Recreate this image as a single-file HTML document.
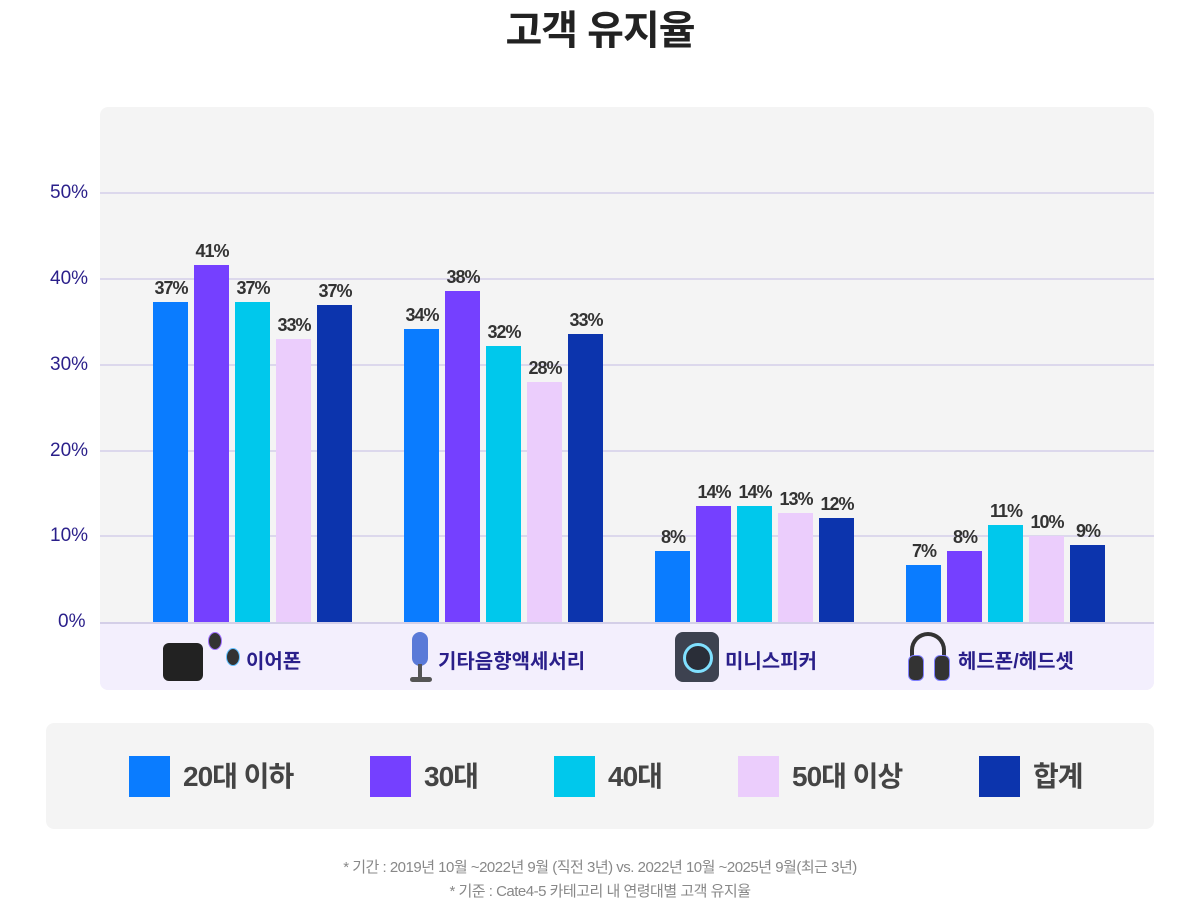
<!DOCTYPE html>
<html><head><meta charset="utf-8"><style>
body{margin:0;width:1200px;height:904px;background:#fff;font-family:"Liberation Sans","Noto Sans CJK KR",sans-serif;position:relative;overflow:hidden}
.a{position:absolute}
.title{left:0;width:1200px;top:-2px;text-align:center;font-size:40px;font-weight:bold;color:#222;letter-spacing:-1px}
.panel{left:100px;top:107px;width:1054px;height:583px;background:#f4f4f4;border-radius:8px;overflow:hidden}
.band{left:0;top:515px;width:1054px;height:68px;background:#f3effd;border-top:2px solid #d4cfe8}
.grid{left:100px;width:1054px;height:2px;background:#dcd8ec}
.yl{left:40px;width:55px;text-align:left;font-size:19px;color:#2a1f8a}
.bar{width:35px}
.v{width:60px;text-align:center;font-size:18px;font-weight:bold;color:#333;letter-spacing:-1px}
.cat{font-size:20px;font-weight:bold;color:#2a1f8a;top:645px}
.leg{left:46px;top:723px;width:1108px;height:106px;background:#f4f4f4;border-radius:8px}
.sq{width:41px;height:41px;top:756px}
.lt{top:756px;font-size:28px;font-weight:bold;color:#444;line-height:41px;letter-spacing:-1px}
.foot{left:0;width:1200px;text-align:center;font-size:15px;color:#888;letter-spacing:-0.5px}
</style></head><body>
<div class="a title">고객 유지율</div>
<div class="a panel"><div class="a band"></div></div>
<div class="a grid" style="top:192px"></div>
<div class="a grid" style="top:278px"></div>
<div class="a grid" style="top:364px"></div>
<div class="a grid" style="top:450px"></div>
<div class="a grid" style="top:535px"></div>
<div class="a yl" style="top:182px;left:50px">50%</div>
<div class="a yl" style="top:268px;left:50px">40%</div>
<div class="a yl" style="top:354px;left:50px">30%</div>
<div class="a yl" style="top:440px;left:50px">20%</div>
<div class="a yl" style="top:525px;left:50px">10%</div>
<div class="a yl" style="top:611px;left:58px">0%</div>
<div id="bars"></div>
<script>
var tops=[[302,265,302,339,305],[329,291,346,382,334],[551,506,506,513,518],[565,551,525,536,545]];
var vals=[["37%","41%","37%","33%","37%"],["34%","38%","32%","28%","33%"],["8%","14%","14%","13%","12%"],["7%","8%","11%","10%","9%"]];
var cols=["#0a7cff","#7540ff","#00c8ec","#ebcdfc","#0c34ad"];
var h="";
for(var g=0;g<4;g++)for(var i=0;i<5;i++){var x=153+g*251+i*41,t=tops[g][i];
h+='<div class="a bar" style="left:'+x+'px;top:'+t+'px;height:'+(622-t)+'px;background:'+cols[i]+'"></div>';
h+='<div class="a v" style="left:'+(x-12)+'px;top:'+(t-24)+'px">'+vals[g][i]+'</div>';}
document.getElementById("bars").innerHTML=h;
</script>
<div class="a" style="left:163px;top:643px;width:40px;height:38px;background:#222;border-radius:6px"></div>
<div class="a" style="left:208px;top:632px;width:12px;height:16px;background:#333;border-radius:50%;border:1px solid #a070ff"></div>
<div class="a" style="left:226px;top:648px;width:12px;height:16px;background:#333;border-radius:50%;border:1px solid #60c0ff"></div>
<div class="a cat" style="left:246px">이어폰</div>
<div class="a" style="left:412px;top:632px;width:16px;height:34px;background:#5a7ad8;border-radius:8px"></div>
<div class="a" style="left:418px;top:664px;width:4px;height:14px;background:#555"></div>
<div class="a" style="left:410px;top:677px;width:22px;height:5px;background:#555;border-radius:3px"></div>
<div class="a cat" style="left:438px">기타음향액세서리</div>
<div class="a" style="left:675px;top:632px;width:44px;height:50px;background:#3d4250;border-radius:8px"></div>
<div class="a" style="left:683px;top:643px;width:24px;height:24px;border:3px solid #80e0ff;border-radius:50%;background:#2a2e38"></div>
<div class="a cat" style="left:725px">미니스피커</div>
<div class="a" style="left:910px;top:632px;width:36px;height:40px;border:4px solid #333;border-bottom:none;border-radius:22px 22px 0 0;box-sizing:border-box"></div>
<div class="a" style="left:908px;top:655px;width:14px;height:24px;background:#333;border-radius:6px;border:1px solid #8080ff"></div>
<div class="a" style="left:934px;top:655px;width:14px;height:24px;background:#333;border-radius:6px;border:1px solid #8080ff"></div>
<div class="a cat" style="left:958px">헤드폰/헤드셋</div>
<div class="a leg"></div>
<div class="a sq" style="left:129px;background:#0a7cff"></div><div class="a lt" style="left:183px">20대 이하</div>
<div class="a sq" style="left:370px;background:#7540ff"></div><div class="a lt" style="left:424px">30대</div>
<div class="a sq" style="left:554px;background:#00c8ec"></div><div class="a lt" style="left:608px">40대</div>
<div class="a sq" style="left:738px;background:#ebcdfc"></div><div class="a lt" style="left:792px">50대 이상</div>
<div class="a sq" style="left:979px;background:#0c34ad"></div><div class="a lt" style="left:1033px">합계</div>
<div class="a foot" style="top:856px">* 기간 : 2019년 10월 ~2022년 9월 (직전 3년) vs. 2022년 10월 ~2025년 9월(최근 3년)</div>
<div class="a foot" style="top:880px">* 기준 : Cate4-5 카테고리 내 연령대별 고객 유지율</div>
</body></html>
